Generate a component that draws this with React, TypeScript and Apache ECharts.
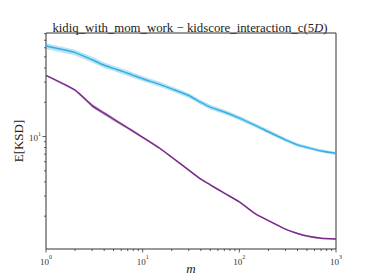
import React, { useEffect, useRef } from "react";
import * as echarts from "echarts";

const mValues = [1, 2, 3, 4, 5, 6, 7, 8, 10, 15, 20, 30, 40, 50, 70, 100, 150, 200, 300, 400, 500, 700, 1000];
const blueMean = [62.2, 54.5, 47.2, 42.2, 39.6, 37.6, 35.9, 34.4, 32.1, 28.7, 26.2, 22.9, 19.9, 18.1, 16.4, 14.5, 12.4, 11.0, 9.35, 8.45, 8.02, 7.47, 7.13];
const blueHi = [66.0, 57.8, 50.0, 44.6, 41.8, 39.7, 37.9, 36.3, 33.8, 30.2, 27.5, 24.0, 20.9, 19.0, 17.2, 15.2, 12.9, 11.5, 9.7, 8.75, 8.3, 7.72, 7.36];
const blueLo = [58.5, 51.4, 44.6, 39.9, 37.5, 35.6, 34.0, 32.6, 30.5, 27.3, 24.9, 21.8, 19.0, 17.3, 15.7, 13.9, 11.9, 10.6, 9.0, 8.15, 7.75, 7.23, 6.9];
const purpleMean = [34.4, 25.5, 18.7, 16.0, 14.2, 12.9, 11.9, 11.1, 9.84, 7.89, 6.58, 5.07, 4.22, 3.77, 3.18, 2.67, 2.07, 1.83, 1.54, 1.41, 1.34, 1.28, 1.26];
const purpleHi = [35.0, 26.0, 19.4, 16.6, 14.7, 13.3, 12.2, 11.4, 10.05, 8.05, 6.7, 5.16, 4.29, 3.83, 3.23, 2.71, 2.1, 1.86, 1.56, 1.43, 1.36, 1.3, 1.28];
const purpleLo = [33.8, 25.0, 18.0, 15.4, 13.7, 12.5, 11.6, 10.8, 9.63, 7.73, 6.46, 4.98, 4.15, 3.71, 3.13, 2.63, 2.04, 1.8, 1.52, 1.39, 1.32, 1.26, 1.24];

const xMajorTicks = [1, 10, 100, 1000];
const xMinorTicks = [2, 3, 4, 5, 6, 7, 8, 9, 20, 30, 40, 50, 60, 70, 80, 90, 200, 300, 400, 500, 600, 700, 800, 900];
const yMajorTicks = [10];
const yMinorTicks = [2, 3, 4, 5, 6, 7, 8, 9, 20, 30, 40, 50, 60, 70, 80];

const X_MIN = 1;
const X_MAX = 1000;
const Y_MIN = 1.03;
const Y_MAX = 81;

const FONT = "Liberation Serif";
const BLUE = "#35aee2";
const BLUE_BAND = "rgba(53,174,226,0.35)";
const PURPLE = "#7a2b8b";
const PURPLE_BAND = "rgba(122,43,139,0.35)";

function bandSeries(lo: number[], hi: number[], color: string) {
  return {
    type: "custom",
    silent: true,
    clip: true,
    z: 1,
    data: mValues.map((m, i) => [m, lo[i]]),
    renderItem: (params: any, api: any) => {
      if (params.dataIndex !== 0) return null;
      const pts: number[][] = [];
      for (let i = 0; i < mValues.length; i++) pts.push(api.coord([mValues[i], hi[i]]));
      for (let i = mValues.length - 1; i >= 0; i--) pts.push(api.coord([mValues[i], lo[i]]));
      return { type: "polygon", shape: { points: pts }, style: { fill: color } };
    },
  };
}

const supLabel = (v: number) => {
  const e = Math.log10(v);
  const r = Math.round(e);
  if (Math.abs(e - r) > 1e-6) return "";
  return `{b|10}{s|${r}}`;
};

const labelRich = {
  b: { fontFamily: FONT, fontSize: 9, color: "#333", verticalAlign: "bottom", lineHeight: 12 },
  s: { fontFamily: FONT, fontSize: 6, color: "#333", verticalAlign: "top", lineHeight: 12 },
};

export default function App() {
  const ref = useRef<HTMLDivElement>(null);
  useEffect(() => {
    if (!ref.current) return;
    const chart = echarts.init(ref.current, null, { renderer: "svg" });
    const tickData: number[][] = [
      ...xMinorTicks.map((v) => [v, Y_MIN, 0]),
      ...xMajorTicks.map((v) => [v, Y_MIN, 1]),
      ...yMinorTicks.map((v) => [X_MIN, v, 2]),
      ...yMajorTicks.map((v) => [X_MIN, v, 3]),
    ];
    chart.setOption({
      animation: false,
      title: {
        text: "{n|kidiq_with_mom_work − kidscore_interaction_c(5}{i|D}{n|)}",
        left: 185,
        textAlign: "center",
        top: 16,
        textStyle: {
          fontFamily: FONT,
          fontSize: 12.8,
          fontWeight: "normal",
          color: "#222",
          rich: {
            n: { fontFamily: FONT, fontSize: 12.8, color: "#222" },
            i: { fontFamily: FONT, fontSize: 12.8, fontStyle: "italic", color: "#222" },
          },
        },
      },
      grid: {
        left: 46,
        right: 38,
        top: 33,
        bottom: 31,
        outerBoundsMode: "none",
        containLabel: false,
        show: true,
        borderColor: "#333",
        borderWidth: 1,
        backgroundColor: "transparent",
      },
      xAxis: {
        type: "log",
        logBase: 10,
        min: X_MIN,
        max: X_MAX,
        name: "m",
        nameLocation: "middle",
        nameGap: 13,
        nameMoveOverlap: false,
        nameTextStyle: { fontFamily: FONT, fontSize: 13, fontStyle: "italic", color: "#222" },
        axisLine: { show: false },
        axisTick: { show: false },
        splitLine: { show: false },
        axisLabel: {
          margin: 5,
          formatter: supLabel,
          rich: labelRich,
          showMinLabel: true,
          showMaxLabel: true,
        },
      },
      yAxis: {
        type: "log",
        logBase: 10,
        min: Y_MIN,
        max: Y_MAX,
        name: "E[KSD]",
        nameLocation: "middle",
        nameGap: 21,
        nameMoveOverlap: false,
        nameRotate: 90,
        nameTextStyle: { fontFamily: FONT, fontSize: 13, color: "#222" },
        axisLine: { show: false },
        axisTick: { show: false },
        splitLine: { show: false },
        axisLabel: {
          margin: 5,
          formatter: supLabel,
          rich: labelRich,
          showMinLabel: false,
          showMaxLabel: false,
        },
      },
      series: [
        bandSeries(blueLo, blueHi, BLUE_BAND),
        bandSeries(purpleLo, purpleHi, PURPLE_BAND),
        {
          type: "line",
          data: mValues.map((m, i) => [m, blueMean[i]]),
          showSymbol: false,
          smooth: 0.2,
          lineStyle: { color: BLUE, width: 1.5 },
          itemStyle: { color: BLUE },
          z: 3,
        },
        {
          type: "line",
          data: mValues.map((m, i) => [m, purpleMean[i]]),
          showSymbol: false,
          smooth: 0.2,
          lineStyle: { color: PURPLE, width: 1.5 },
          itemStyle: { color: PURPLE },
          z: 3,
        },
        {
          type: "custom",
          silent: true,
          clip: false,
          z: 5,
          data: tickData,
          renderItem: (_params: any, api: any) => {
            const kind = api.value(2);
            const p = api.coord([api.value(0), api.value(1)]);
            const len = kind % 2 === 1 ? 3.5 : 2;
            const shape =
              kind < 2
                ? { x1: p[0], y1: p[1], x2: p[0], y2: p[1] + len }
                : { x1: p[0] - len, y1: p[1], x2: p[0], y2: p[1] };
            return { type: "line", shape, style: { stroke: "#333", lineWidth: 0.8 } };
          },
        },
      ],
    });
    return () => chart.dispose();
  }, []);
  return <div ref={ref} style={{ position: "absolute", left: 0, top: 0, width: 374, height: 280 }} />;
}
